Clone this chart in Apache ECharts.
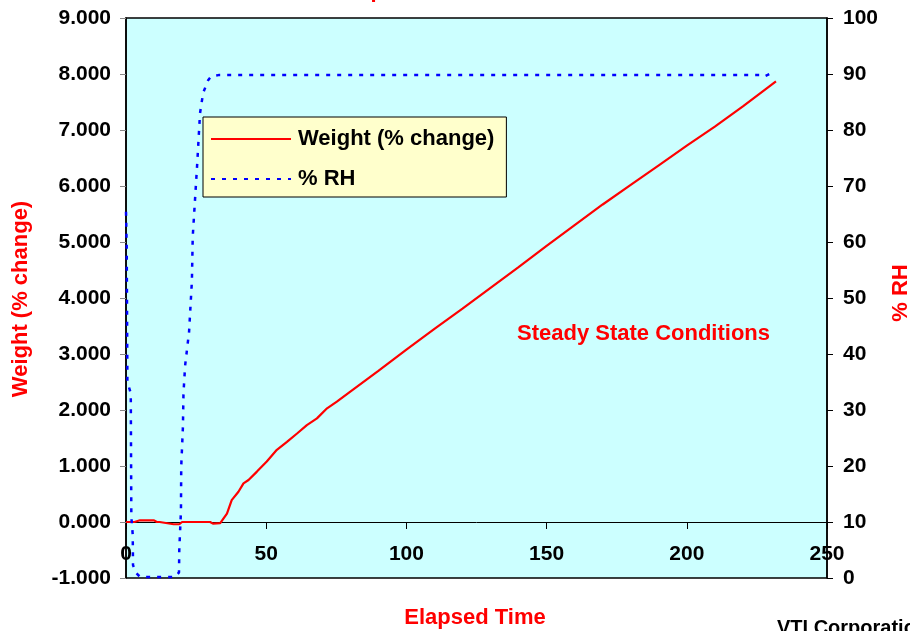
<!DOCTYPE html>
<html><head><meta charset="utf-8">
<script src="https://cdn.jsdelivr.net/npm/echarts@6/dist/echarts.min.js"></script>
<style>html,body{margin:0;padding:0;background:#fff}#c{width:910px;height:631px}</style>
</head><body><div id="c"></div>
<script>
// Weight (% change) series
const weightTime = [0, 3, 5, 10, 11, 12, 17, 19, 20, 25, 30, 31, 33.6, 36.0, 37.7, 40.1, 41.9, 43.7, 46.7, 50.2, 53.8, 57.4, 61.0, 64.5, 68.1, 71.7, 75.2, 80, 90, 100, 110, 120, 130, 140, 150, 160, 170, 180, 190, 200, 210, 220, 231.8];
const weightVals = [0.0, 0.0, 0.03, 0.03, 0.0, 0.0, -0.04, -0.04, 0.0, 0.0, 0.0, -0.03, -0.02, 0.15, 0.39, 0.54, 0.69, 0.75, 0.90, 1.08, 1.29, 1.43, 1.58, 1.73, 1.85, 2.03, 2.15, 2.33, 2.70, 3.08, 3.45, 3.81, 4.18, 4.55, 4.93, 5.30, 5.67, 6.02, 6.37, 6.72, 7.06, 7.42, 7.87];
// % RH series
const rhTime = [0, 0.25, 0.5, 1.7, 1.9, 2.4, 2.5, 3.6, 5, 17.5, 18.9, 19.0, 19.6, 19.7, 20.3, 20.5, 21.1, 22.5, 23.5, 23.8, 24.3, 25.4, 26.4, 27.5, 29.3, 30.4, 33, 60, 100, 150, 200, 226, 227.3, 230, 231.5];
const rhVals = [65.4, 59, 35, 33, 11, 7.7, 2.3, 0.9, 0.2, 0.2, 1, 5, 12, 20, 27, 33, 38, 44, 53, 61, 65, 74, 83, 86.6, 88.9, 89.6, 89.8, 89.8, 89.8, 89.8, 89.8, 89.8, 89.5, 90.1, 89.8];
// axis ticks
const xTicks = [0, 50, 100, 150, 200, 250];
const leftTicks = [-1, 0, 1, 2, 3, 4, 5, 6, 7, 8, 9];
const rightTicks = [0, 10, 20, 30, 40, 50, 60, 70, 80, 90, 100];

const weightData = weightTime.map((t, i) => [t, weightVals[i]]);
const rhData = rhTime.map((t, i) => [t, rhVals[i]]);

const FONT = '"Liberation Sans", Arial, sans-serif';
const lbl = {color: '#000', fontWeight: 'bold', fontSize: 21, fontFamily: FONT};

const chart = echarts.init(document.getElementById('c'));
chart.setOption({
  animation: false,
  backgroundColor: '#fff',
  grid: {left: 126, right: 83, top: 18, bottom: 53, show: true, backgroundColor: '#CCFFFF', borderColor: '#000', borderWidth: 1.5},
  xAxis: {
    type: 'value', min: xTicks[0], max: xTicks[xTicks.length - 1], interval: 50,
    axisLine: {onZero: true, onZeroAxisIndex: 0, lineStyle: {color: '#000', width: 1}},
    axisTick: {show: true, inside: false, length: 7, lineStyle: {color: '#000'}},
    axisLabel: Object.assign({margin: -34}, lbl),
    splitLine: {show: false}
  },
  yAxis: [{
    type: 'value', min: leftTicks[0], max: leftTicks[leftTicks.length - 1], interval: 1, position: 'left',
    axisLine: {show: true, lineStyle: {color: '#000', width: 1.5}},
    axisTick: {show: true, length: 6, lineStyle: {color: '#888'}},
    axisLabel: Object.assign({margin: 15, formatter: v => v.toFixed(3)}, lbl),
    splitLine: {show: false}
  }, {
    type: 'value', min: rightTicks[0], max: rightTicks[rightTicks.length - 1], interval: 10, position: 'right',
    axisLine: {show: true, lineStyle: {color: '#000', width: 1.5}},
    axisTick: {show: true, length: 6, lineStyle: {color: '#000'}},
    axisLabel: Object.assign({margin: 16}, lbl),
    splitLine: {show: false}
  }],
  legend: {
    orient: 'vertical', left: 203, top: 117,
    backgroundColor: '#FFFFCC', borderColor: '#000', borderWidth: 1,
    padding: [11, 12, 7, 7], itemWidth: 80, itemHeight: 14, itemGap: 18,
    itemStyle: {opacity: 0},
    textStyle: {color: '#000', fontWeight: 'bold', fontSize: 22, fontFamily: FONT, padding: [0, 0, 0, 2]},
    data: ['Weight (% change)', '% RH']
  },
  series: [{
    name: 'Weight (% change)', type: 'line', yAxisIndex: 0, data: weightData,
    showSymbol: false, symbol: 'none',
    lineStyle: {color: '#FF0000', width: 2.2}, itemStyle: {color: '#FF0000'}
  }, {
    name: '% RH', type: 'line', yAxisIndex: 1, data: rhData,
    showSymbol: false, symbol: 'none',
    lineStyle: {color: '#0000FF', width: 2.5, type: [4, 7]}, itemStyle: {color: '#0000FF'}
  }],
  graphic: [
    {type: 'text', x: 425, y: -20, style: {text: 'Sorption Kinetics', fill: '#FF0000', font: 'bold 22px ' + FONT, textAlign: 'center'}, silent: true},
    {type: 'text', x: 21, y: 299, rotation: Math.PI / 2, style: {text: 'Weight (% change)', fill: '#FF0000', font: 'bold 22px ' + FONT, textAlign: 'center', textVerticalAlign: 'middle'}},
    {type: 'text', x: 901, y: 293, rotation: Math.PI / 2, style: {text: '% RH', fill: '#FF0000', font: 'bold 22px ' + FONT, textAlign: 'center', textVerticalAlign: 'middle'}},
    {type: 'text', x: 475, y: 618, style: {text: 'Elapsed Time', fill: '#FF0000', font: 'bold 22px ' + FONT, textAlign: 'center', textVerticalAlign: 'middle'}},
    {type: 'text', x: 777, y: 618, style: {text: 'VTI Corporation', fill: '#000', font: 'bold 20px ' + FONT, textAlign: 'left', textVerticalAlign: 'top'}},
    {type: 'text', x: 517, y: 334, style: {text: 'Steady State Conditions', fill: '#FF0000', font: 'bold 22px ' + FONT, textAlign: 'left', textVerticalAlign: 'middle'}}
  ]
});
</script></body></html>
